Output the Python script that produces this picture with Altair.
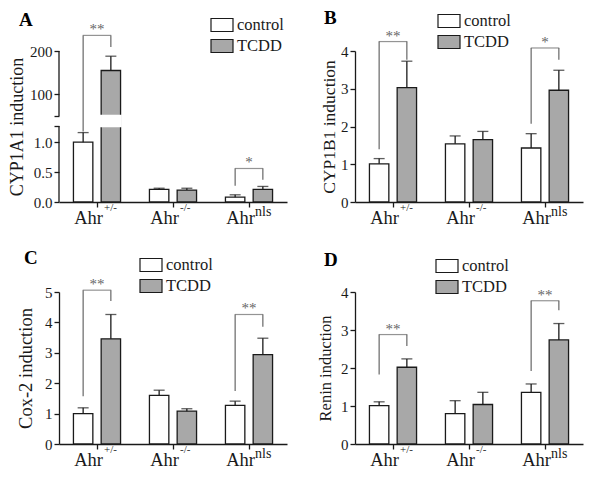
import altair as alt
import pandas as pd

FONT = "Liberation Serif"
INK = "#1a1a1a"
GREY_FILL = "#a8a8a8"
BR_COLOR = "#666666"
STAR_COLOR = "#666666"

groups = ["+/-", "-/-", "nls"]
treatments = ["control", "TCDD"]

# ---- Panel A: CYP1A1 (broken axis)
a_ctrl = [1.00, 0.21, 0.08]
a_ctrl_err = [0.16, 0.02, 0.04]
a_tcdd = [155.0, 0.20, 0.21]
a_tcdd_err = [33.0, 0.03, 0.05]
a_br_group = ["+/-", "nls"]
a_br_top = [236.0, 0.56]
a_br_left = [1.18, 0.27]
a_br_right = [209.0, 0.37]
a_br_label = ["**", "*"]
a_ticks = [0, 0.5, 1.0, 1.27, 50, 100, 200]
a_break = [1.27, 50]

# ---- Panel B: CYP1B1
b_ctrl = [1.01, 1.54, 1.43]
b_ctrl_err = [0.14, 0.21, 0.38]
b_tcdd = [3.03, 1.65, 2.96]
b_tcdd_err = [0.70, 0.22, 0.53]
b_br_group = ["+/-", "nls"]
b_br_top = [4.25, 4.08]
b_br_left = [1.40, 2.07]
b_br_right = [3.77, 3.77]
b_br_label = ["**", "*"]
b_ticks = [0, 1, 2, 3, 4]

# ---- Panel C: Cox-2
c_ctrl = [1.00, 1.60, 1.27]
c_ctrl_err = [0.19, 0.17, 0.14]
c_tcdd = [3.46, 1.08, 2.94]
c_tcdd_err = [0.80, 0.08, 0.54]
c_br_group = ["+/-", "nls"]
c_br_top = [5.06, 4.26]
c_br_left = [1.57, 1.74]
c_br_right = [4.70, 3.86]
c_br_label = ["**", "**"]
c_ticks = [0, 1, 2, 3, 4, 5]

# ---- Panel D: Renin
d_ctrl = [1.01, 0.80, 1.36]
d_ctrl_err = [0.10, 0.34, 0.22]
d_tcdd = [2.02, 1.04, 2.74]
d_tcdd_err = [0.22, 0.32, 0.43]
d_br_group = ["+/-", "nls"]
d_br_top = [2.88, 3.77]
d_br_left = [1.83, 1.92]
d_br_right = [2.58, 3.52]
d_br_label = ["**", "**"]
d_ticks = [0, 1, 2, 3, 4]

W = 228

LEGEND_SHAPE = "M-1,-0.59L1,-0.59L1,0.59L-1,0.59Z"


def panel(letter, ytitle, ctrl, ctrl_err, tcdd, tcdd_err,
          br_group, br_top, br_left, br_right, br_label,
          yscale, ticks, label_expr, H, legend_xy, letter_xy,
          title_pad, title_size, broken=None):
    rows = []
    for i, g in enumerate(groups):
        rows.append(dict(group=g, treatment="control", value=ctrl[i], top=ctrl[i] + ctrl_err[i]))
        rows.append(dict(group=g, treatment="TCDD", value=tcdd[i], top=tcdd[i] + tcdd_err[i]))
    df = pd.DataFrame(rows)

    legs = []
    hb = []
    for i, g in enumerate(br_group):
        legs.append(dict(group=g, treatment="control", y=br_top[i], y2=br_left[i]))
        legs.append(dict(group=g, treatment="TCDD", y=br_top[i], y2=br_right[i]))
        hb.append(dict(group=g, y=br_top[i], label=br_label[i]))
    legs = pd.DataFrame(legs)
    hb = pd.DataFrame(hb)

    xenc = alt.X("group:N",
                 scale=alt.Scale(domain=groups, paddingInner=0.38, paddingOuter=0.19),
                 axis=alt.Axis(title=None, labels=False, ticks=True, tickSize=5,
                               domain=True, grid=False))
    xoff = alt.XOffset("treatment:N",
                       scale=alt.Scale(domain=treatments, paddingInner=0.3, paddingOuter=0))
    yaxis = alt.Axis(title=ytitle, values=ticks, labelExpr=label_expr, grid=False,
                     domain=(broken is None), titlePadding=title_pad,
                     titleFontSize=title_size)

    def Y(field):
        return alt.Y(field, type="quantitative", scale=yscale, axis=yaxis)

    bars = alt.Chart(df).mark_bar(stroke=INK, strokeWidth=1.3).encode(
        x=xenc, xOffset=xoff, y=Y("value"),
        fill=alt.Fill("treatment:N",
                      scale=alt.Scale(domain=treatments, range=["white", GREY_FILL]),
                      legend=alt.Legend(title=None, orient="none",
                                        legendX=legend_xy[0], legendY=legend_xy[1],
                                        symbolType=LEGEND_SHAPE, symbolSize=484,
                                        symbolStrokeColor=INK, symbolStrokeWidth=1.2,
                                        labelFont=FONT, labelFontSize=16.5,
                                        labelColor=INK, labelOffset=3,
                                        rowPadding=-3, padding=0)),
    )
    stems = alt.Chart(df).mark_rule(color=INK, strokeWidth=1.3).encode(
        x=xenc, xOffset=xoff, y=Y("value"), y2="top")
    caps = alt.Chart(df).mark_tick(color=INK, orient="horizontal", size=11,
                                   thickness=1.3).encode(
        x=xenc, xOffset=xoff, y=Y("top"))
    layers = [bars, stems, caps]

    if broken is not None:
        gap = pd.DataFrame([dict(group=groups[0], treatment="TCDD",
                                 lo=broken[0], hi=broken[1])])
        cover = alt.Chart(gap).mark_bar(fill="white", stroke="white",
                                        strokeWidth=2.5).encode(
            x=xenc, xOffset=xoff, y=Y("lo"), y2="hi")
        seg = pd.DataFrame([dict(lo=0, hi=broken[0]), dict(lo=broken[1], hi=200)])
        axline = alt.Chart(seg).mark_rule(color=INK, strokeWidth=1.3).encode(
            x=alt.value(0), y=Y("lo"), y2="hi")
        layers += [cover, axline]

    legs_l = alt.Chart(legs).mark_rule(color=BR_COLOR, strokeWidth=1.2).encode(
        x=xenc, xOffset=xoff, y=Y("y"), y2="y2")
    hbar = alt.Chart(hb).mark_tick(color=BR_COLOR, orient="horizontal", size=28.5,
                                   thickness=1.2).encode(x=xenc, y=Y("y"))
    stars = alt.Chart(hb).mark_text(color=STAR_COLOR, font=FONT, fontSize=15,
                                    baseline="alphabetic", dy=-1).encode(
        x=xenc, y=Y("y"), text="label:N")
    layers += [legs_l, hbar, stars]

    lab = pd.DataFrame(dict(group=groups, base=["Ahr"] * 3, sup=groups))
    ahr = alt.Chart(lab).mark_text(font=FONT, fontSize=18.5, color=INK, align="right",
                                   baseline="alphabetic", dx=6).encode(
        x=xenc, y=alt.value(H + 22), text="base:N")
    sup1 = alt.Chart(lab).transform_filter("datum.sup != 'nls'").mark_text(
        font=FONT, fontSize=11, color=INK, align="left", baseline="alphabetic",
        dx=7).encode(x=xenc, y=alt.value(H + 9), text="sup:N")
    sup2 = alt.Chart(lab).transform_filter("datum.sup == 'nls'").mark_text(
        font=FONT, fontSize=14, color=INK, align="left", baseline="alphabetic",
        dx=6).encode(x=xenc, y=alt.value(H + 14), text="sup:N")
    let = alt.Chart(pd.DataFrame(dict(t=[letter]))).mark_text(
        font=FONT, fontSize=19, fontWeight="bold", color="black", align="left",
        baseline="alphabetic").encode(x=alt.value(letter_xy[0]),
                                      y=alt.value(letter_xy[1]), text="t:N")
    layers += [ahr, sup1, sup2, let]

    return alt.layer(*layers).properties(width=W, height=H)


lab_int = "format(datum.value, 'd')"
lab_a = ("(datum.value == 1.27 || datum.value == 50) ? '' : "
         "(datum.value < 10 ? format(datum.value, '.1f') : format(datum.value, 'd'))")

HA = 151
pA = panel("A", "CYP1A1 induction", a_ctrl, a_ctrl_err, a_tcdd, a_tcdd_err,
           a_br_group, a_br_top, a_br_left, a_br_right, a_br_label,
           alt.Scale(domain=[0, 1.27, 50, 200], range=[151, 75, 65, 0],
                     nice=False, zero=False),
           a_ticks, lab_a, HA, (151, -38), (-40, -25), 3, 18, broken=a_break)
pB = panel("B", "CYP1B1 induction", b_ctrl, b_ctrl_err, b_tcdd, b_tcdd_err,
           b_br_group, b_br_top, b_br_left, b_br_right, b_br_label,
           alt.Scale(domain=[0, 4], nice=False, zero=False),
           b_ticks, lab_int, 151, (82, -42), (-31, -27), 2, 17.5)
pC = panel("C", "Cox-2 induction", c_ctrl, c_ctrl_err, c_tcdd, c_tcdd_err,
           c_br_group, c_br_top, c_br_left, c_br_right, c_br_label,
           alt.Scale(domain=[0, 5], nice=False, zero=False),
           c_ticks, lab_int, 152, (80, -39), (-35, -28), 9, 18.5)
pD = panel("D", "Renin induction", d_ctrl, d_ctrl_err, d_tcdd, d_tcdd_err,
           d_br_group, d_br_top, d_br_left, d_br_right, d_br_label,
           alt.Scale(domain=[0, 4], nice=False, zero=False),
           d_ticks, lab_int, 152, (80, -38), (-31, -26), 7, 16.5)

chart = alt.concat(pA, pB, pC, pD, columns=2, bounds="flush",
                   spacing={"row": 90, "column": 68}).resolve_scale(
    fill="independent"
).properties(
    padding={"left": 0, "top": 1, "right": 5, "bottom": 5},
).configure(
    font=FONT, background="white"
).configure_view(stroke=None).configure_axis(
    labelFont=FONT, labelFontSize=15, labelColor=INK, labelPadding=2,
    tickColor=INK, tickWidth=1.3, tickSize=5, domainColor=INK, domainWidth=1.3,
    titleFont=FONT, titleFontWeight="normal", titleColor=INK,
)

chart.save("out.html", embed_options={"renderer": "svg", "actions": False})
